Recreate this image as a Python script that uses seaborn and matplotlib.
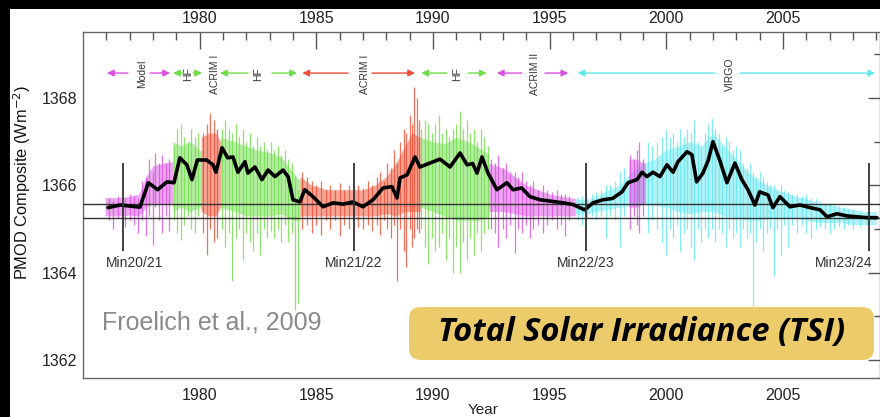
import matplotlib
matplotlib.use("Agg")
import matplotlib.pyplot as plt
from matplotlib.patches import Rectangle, FancyBboxPatch
from matplotlib.transforms import IdentityTransform
import seaborn as sns
import pandas as pd

# ---- data ----
# smoothed composite (black line)
smooth_year = [1976.07, 1976.6, 1977.44, 1977.8, 1978.2, 1978.6, 1978.9, 1979.15, 1979.45, 1979.67,
               1979.9, 1980.3, 1980.57, 1980.7, 1980.96, 1981.2, 1981.43, 1981.64, 1981.94, 1982.07,
               1982.37, 1982.67, 1982.93, 1983.23, 1983.57, 1983.79, 1984.0, 1984.3, 1984.5, 1984.86,
               1985.29, 1985.72, 1986.14, 1986.57, 1987.0, 1987.43, 1987.86, 1988.24, 1988.46, 1988.59,
               1988.89, 1989.23, 1989.44, 1989.87, 1990.3, 1990.73, 1991.16, 1991.46, 1991.7, 1991.89,
               1992.1, 1992.36, 1992.74, 1993.17, 1993.43, 1993.8, 1994.16, 1994.59, 1995.0, 1995.57,
               1996.0, 1996.5, 1996.86, 1997.29, 1997.7, 1998.1, 1998.36, 1998.74, 1998.96, 1999.17,
               1999.43, 1999.73, 2000.03, 2000.29, 2000.5, 2000.89, 2001.1, 2001.3, 2001.57, 2001.79,
               2002.0, 2002.3, 2002.6, 2002.94, 2003.24, 2003.5, 2003.8, 2004.0, 2004.36, 2004.57,
               2004.87, 2005.3, 2005.73, 2006.16, 2006.59, 2006.89, 2007.32, 2007.74, 2008.17, 2008.6,
               2009.03]
smooth_val = [1365.49, 1365.55, 1365.5, 1366.06, 1365.9, 1366.08, 1366.06, 1366.63, 1366.47, 1366.13,
              1366.58, 1366.58, 1366.47, 1366.3, 1366.86, 1366.63, 1366.65, 1366.3, 1366.54, 1366.28,
              1366.42, 1366.13, 1366.35, 1366.2, 1366.35, 1366.2, 1365.67, 1365.62, 1365.9, 1365.74,
              1365.51, 1365.6, 1365.57, 1365.62, 1365.51, 1365.67, 1365.94, 1365.97, 1365.71, 1366.17,
              1366.24, 1366.65, 1366.42, 1366.51, 1366.6, 1366.42, 1366.74, 1366.47, 1366.5, 1366.28,
              1366.65, 1366.28, 1365.9, 1366.06, 1365.9, 1365.94, 1365.74, 1365.67, 1365.64, 1365.6,
              1365.56, 1365.44, 1365.6, 1365.67, 1365.7, 1365.85, 1366.06, 1366.13, 1366.3, 1366.2,
              1366.3, 1366.2, 1366.47, 1366.3, 1366.54, 1366.77, 1366.7, 1366.08, 1366.28, 1366.56,
              1367.0, 1366.56, 1366.06, 1366.51, 1366.13, 1365.9, 1365.55, 1365.85, 1365.78, 1365.49,
              1365.74, 1365.51, 1365.55, 1365.49, 1365.44, 1365.28, 1365.35, 1365.3, 1365.28, 1365.26,
              1365.26]

# daily data envelopes, one block per instrument stretch
model_t = [1975.95, 1976.5, 1977.0, 1977.4, 1977.7, 1978.0, 1978.4, 1978.85]
model_up = [1365.72, 1365.72, 1365.75, 1365.8, 1366.2, 1366.45, 1366.5, 1366.55]
model_lo = [1365.3, 1365.3, 1365.32, 1365.3, 1365.5, 1365.6, 1365.55, 1365.6]

hf1_t = [1978.85, 1979.2, 1979.6, 1980.0, 1980.1]
hf1_up = [1367.0, 1366.9, 1367.0, 1366.8, 1366.8]
hf1_lo = [1365.4, 1365.5, 1365.4, 1365.5, 1365.4]

acrim1a_t = [1980.07, 1980.4, 1980.7, 1980.9]
acrim1a_up = [1367.1, 1367.2, 1367.2, 1367.0]
acrim1a_lo = [1365.4, 1365.3, 1365.3, 1365.5]

hf2_t = [1980.9, 1981.5, 1982.0, 1982.5, 1983.0, 1983.5, 1984.0, 1984.3]
hf2_up = [1367.1, 1367.0, 1366.9, 1366.8, 1366.75, 1366.65, 1366.3, 1366.1]
hf2_lo = [1365.5, 1365.4, 1365.3, 1365.3, 1365.3, 1365.35, 1365.2, 1365.2]

acrim1b_t = [1984.3, 1984.8, 1985.5, 1986.0, 1986.5, 1987.0, 1987.5, 1988.0, 1988.4, 1988.8, 1989.1, 1989.45]
acrim1b_up = [1366.2, 1366.0, 1365.9, 1365.9, 1365.9, 1365.9, 1366.0, 1366.2, 1366.5, 1366.9, 1367.2, 1367.1]
acrim1b_lo = [1365.3, 1365.3, 1365.3, 1365.3, 1365.3, 1365.3, 1365.3, 1365.35, 1365.3, 1365.4, 1365.4, 1365.4]

hf3_t = [1989.45, 1990.0, 1990.5, 1991.0, 1991.5, 1992.0, 1992.4]
hf3_up = [1367.1, 1367.0, 1366.95, 1367.1, 1367.0, 1366.85, 1366.7]
hf3_lo = [1365.5, 1365.4, 1365.3, 1365.2, 1365.2, 1365.2, 1365.3]

acrim2_t = [1992.4, 1993.0, 1993.5, 1994.0, 1994.5, 1995.0, 1995.5, 1996.1]
acrim2_up = [1366.5, 1366.4, 1366.2, 1366.0, 1365.9, 1365.8, 1365.75, 1365.7]
acrim2_lo = [1365.4, 1365.4, 1365.35, 1365.3, 1365.3, 1365.3, 1365.3, 1365.3]

virgo_t = [1996.1, 1996.6, 1997.0, 1997.5, 1998.0, 1998.5, 1999.0, 1999.5, 2000.0, 2000.5, 2001.0,
           2001.5, 2002.0, 2002.5, 2003.0, 2003.5, 2004.0, 2004.5, 2005.0, 2005.5, 2006.0, 2006.5,
           2007.0, 2007.5, 2008.0, 2008.5, 2009.0]
virgo_up = [1365.7, 1365.65, 1365.75, 1365.9, 1366.0, 1366.3, 1366.5, 1366.6, 1366.8, 1366.9, 1367.0,
            1366.9, 1367.2, 1366.9, 1366.6, 1366.3, 1366.1, 1365.95, 1365.85, 1365.75, 1365.7, 1365.6,
            1365.55, 1365.5, 1365.45, 1365.4, 1365.4]
virgo_lo = [1365.35, 1365.35, 1365.4, 1365.45, 1365.5, 1365.55, 1365.55, 1365.55, 1365.5, 1365.4, 1365.35,
            1365.4, 1365.4, 1365.3, 1365.25, 1365.2, 1365.2, 1365.25, 1365.25, 1365.25, 1365.2, 1365.15,
            1365.15, 1365.15, 1365.1, 1365.1, 1365.1]

gap_t = [1998.4, 1998.7, 1999.1]
gap_up = [1366.6, 1366.6, 1366.5]
gap_lo = [1365.5, 1365.5, 1365.6]

# single-day excursions: (year, low, high)
magenta_spikes = [
    (1976.1, 1365.2, 1365.7), (1976.3, 1365.0, 1365.65), (1976.5, 1365.25, 1365.75),
    (1976.8, 1365.05, 1365.7), (1977.0, 1365.2, 1365.8), (1977.2, 1365.1, 1365.75),
    (1977.35, 1364.9, 1365.7), (1977.55, 1365.2, 1366.1), (1977.7, 1364.85, 1366.2),
    (1977.85, 1365.3, 1366.6), (1978.0, 1364.64, 1366.3), (1978.1, 1365.5, 1366.75),
    (1978.25, 1365.2, 1366.5), (1978.4, 1364.9, 1366.7), (1978.55, 1365.3, 1366.5),
    (1978.7, 1364.95, 1366.6),
    (1992.5, 1365.0, 1366.6), (1992.65, 1364.9, 1366.5), (1992.8, 1364.6, 1366.7),
    (1993.0, 1365.0, 1366.4), (1993.15, 1364.8, 1366.5), (1993.3, 1365.1, 1366.3),
    (1993.5, 1364.45, 1366.3), (1993.65, 1365.0, 1366.2), (1993.8, 1364.9, 1366.3),
    (1994.0, 1365.1, 1366.1), (1994.15, 1364.8, 1366.0), (1994.3, 1365.0, 1366.1),
    (1994.5, 1365.1, 1365.9), (1994.7, 1364.9, 1366.0), (1994.9, 1365.1, 1365.9),
    (1995.1, 1365.2, 1365.85), (1995.3, 1365.0, 1365.9), (1995.5, 1365.1, 1365.8),
    (1995.65, 1364.85, 1365.8), (1995.85, 1365.2, 1365.75),
    (1998.45, 1365.0, 1366.7), (1998.6, 1365.3, 1366.6), (1998.75, 1365.1, 1366.8),
    (1998.85, 1364.9, 1367.0), (1999.0, 1365.3, 1366.6)]

green_spikes = [
    (1978.9, 1365.2, 1366.9), (1979.05, 1364.9, 1367.3), (1979.2, 1364.75, 1367.4),
    (1979.35, 1365.1, 1367.1), (1979.5, 1365.3, 1367.0), (1979.65, 1365.0, 1367.3),
    (1979.8, 1364.9, 1367.1), (1979.95, 1365.3, 1367.2),
    (1980.95, 1365.0, 1367.3), (1981.1, 1364.6, 1367.5), (1981.25, 1364.9, 1367.3),
    (1981.4, 1363.8, 1367.2), (1981.55, 1364.8, 1367.4), (1981.7, 1365.0, 1367.1),
    (1981.85, 1364.3, 1367.3), (1982.0, 1364.9, 1367.0), (1982.15, 1364.7, 1367.2),
    (1982.3, 1364.5, 1366.9), (1982.45, 1364.9, 1367.1), (1982.6, 1364.4, 1366.9),
    (1982.75, 1365.0, 1367.0), (1982.9, 1364.8, 1366.8), (1983.05, 1364.95, 1367.0),
    (1983.2, 1364.8, 1366.8), (1983.35, 1365.0, 1366.9), (1983.5, 1364.7, 1366.7),
    (1983.65, 1365.1, 1366.8), (1983.8, 1364.7, 1366.6), (1983.95, 1364.9, 1366.5),
    (1984.1, 1363.15, 1366.2), (1984.2, 1363.3, 1365.9),
    (1989.5, 1365.0, 1367.3), (1989.65, 1364.6, 1367.5), (1989.8, 1364.2, 1367.4),
    (1989.95, 1364.8, 1367.2), (1990.1, 1364.5, 1367.4), (1990.25, 1364.6, 1367.6),
    (1990.4, 1364.9, 1367.2), (1990.55, 1364.3, 1367.3), (1990.7, 1364.8, 1367.1),
    (1990.85, 1364.0, 1367.3), (1991.0, 1364.6, 1367.4), (1991.15, 1363.99, 1367.7),
    (1991.3, 1364.7, 1367.3), (1991.45, 1364.3, 1367.5), (1991.6, 1364.8, 1367.2),
    (1991.75, 1364.4, 1367.3), (1991.9, 1364.9, 1367.0), (1992.05, 1364.5, 1367.3),
    (1992.2, 1364.9, 1367.1), (1992.35, 1365.0, 1366.9)]

red_spikes = [
    (1980.15, 1364.9, 1367.2), (1980.3, 1364.4, 1367.4), (1980.45, 1365.0, 1367.65),
    (1980.6, 1364.7, 1367.5), (1980.75, 1364.8, 1367.3),
    (1984.4, 1365.0, 1366.3), (1984.6, 1365.1, 1366.2), (1984.8, 1364.9, 1366.1),
    (1985.0, 1365.1, 1366.0), (1985.2, 1364.87, 1366.1), (1985.4, 1365.2, 1365.9),
    (1985.6, 1365.0, 1366.0), (1985.8, 1365.2, 1365.9), (1986.0, 1364.85, 1366.05),
    (1986.2, 1365.1, 1365.9), (1986.4, 1365.0, 1366.0), (1986.6, 1365.2, 1365.95),
    (1986.8, 1365.05, 1366.0), (1987.0, 1365.0, 1365.95), (1987.2, 1365.1, 1366.1),
    (1987.4, 1364.95, 1366.0), (1987.6, 1365.1, 1366.2), (1987.75, 1364.87, 1366.3),
    (1987.9, 1365.2, 1366.1), (1988.05, 1365.0, 1366.5), (1988.2, 1364.8, 1366.4),
    (1988.35, 1365.1, 1366.8), (1988.45, 1363.8, 1366.5), (1988.6, 1365.0, 1367.0),
    (1988.75, 1364.5, 1367.3), (1988.85, 1364.14, 1367.2), (1989.0, 1365.0, 1367.6),
    (1989.1, 1364.6, 1367.4), (1989.2, 1364.8, 1368.26), (1989.3, 1365.0, 1368.0),
    (1989.4, 1364.9, 1367.5)]

cyan_spikes = [
    (1996.2, 1365.2, 1365.7), (1996.4, 1365.1, 1365.75), (1996.6, 1365.25, 1365.7),
    (1996.8, 1365.3, 1365.8), (1997.0, 1365.2, 1365.85), (1997.2, 1365.3, 1365.9),
    (1997.4, 1364.8, 1366.0), (1997.6, 1365.3, 1366.0), (1997.8, 1365.2, 1366.1),
    (1998.0, 1364.6, 1366.3), (1998.2, 1365.3, 1366.4), (1999.2, 1364.9, 1367.0),
    (1999.4, 1365.2, 1366.9), (1999.6, 1365.0, 1367.0), (1999.8, 1364.7, 1367.1),
    (2000.0, 1364.4, 1367.3), (2000.15, 1365.0, 1367.1), (2000.3, 1364.8, 1367.2),
    (2000.45, 1365.1, 1367.0), (2000.6, 1364.5, 1367.3), (2000.75, 1364.9, 1367.1),
    (2000.9, 1365.0, 1367.3), (2001.05, 1364.6, 1367.2), (2001.2, 1364.3, 1367.5),
    (2001.35, 1365.0, 1367.0), (2001.5, 1364.7, 1366.9), (2001.65, 1365.0, 1367.2),
    (2001.8, 1364.8, 1367.4), (2001.95, 1365.0, 1367.55), (2002.1, 1364.7, 1367.3),
    (2002.25, 1365.0, 1367.2), (2002.4, 1364.9, 1366.9), (2002.55, 1364.6, 1367.1),
    (2002.7, 1365.0, 1367.0), (2002.85, 1364.8, 1366.8), (2003.0, 1364.9, 1366.9),
    (2003.15, 1364.6, 1366.8), (2003.3, 1365.0, 1366.5), (2003.45, 1364.8, 1366.4),
    (2003.6, 1364.9, 1366.5), (2003.73, 1363.23, 1366.3), (2003.85, 1364.7, 1366.2),
    (2004.0, 1365.0, 1366.3), (2004.15, 1364.5, 1366.2), (2004.3, 1364.9, 1366.1),
    (2004.45, 1365.0, 1366.0), (2004.6, 1363.92, 1366.0), (2004.75, 1365.0, 1365.9),
    (2004.9, 1364.4, 1366.0), (2005.05, 1365.1, 1365.9), (2005.2, 1364.6, 1365.85),
    (2005.4, 1365.1, 1365.8), (2005.6, 1364.9, 1365.8), (2005.8, 1365.1, 1365.75),
    (2006.0, 1364.9, 1365.8), (2006.2, 1364.8, 1365.7), (2006.4, 1365.0, 1365.7),
    (2006.6, 1365.05, 1365.65), (2006.8, 1365.0, 1365.6), (2007.0, 1364.9, 1365.6),
    (2007.2, 1365.0, 1365.55), (2007.4, 1365.05, 1365.5), (2007.6, 1365.0, 1365.5),
    (2007.8, 1365.1, 1365.45), (2008.0, 1365.0, 1365.45), (2008.3, 1365.05, 1365.4),
    (2008.6, 1365.1, 1365.4)]

# instrument arrows along the top
inst_names = ["Model", "HF", "ACRIM I", "HF", "ACRIM I", "HF", "ACRIM II", "VIRGO"]
inst_start = [1976.03, 1978.86, None, 1980.87, 1984.4, 1989.5, 1992.74, 1996.2]
inst_end = [1978.73, 1980.1, None, 1984.17, 1989.23, 1992.3, 1995.8, 2008.95]
inst_text = [1977.52, 1979.5, 1980.66, 1982.5, 1987.09, 1991.03, 1994.37, 2002.73]
inst_gap_lo = [1976.93, 1979.3, None, 1982.07, 1986.36, 1990.6, 1993.8, 2002.09]
inst_gap_hi = [1977.87, 1979.72, None, 1983.1, 1987.39, 1991.5, 1994.8, 2003.16]

# solar minima
min_names = ["Min20/21", "Min21/22", "Min22/23", "Min23/24"]
min_years = [1976.7, 1986.62, 1996.56, 2008.7]
min_label_x = [1977.19, 1986.62, 1996.56, 2007.62]
ref_levels = [1365.58, 1365.26]

MAG, GRN, RED, CYN = "#d94fe0", "#6fdc4a", "#ec4f33", "#64e6ef"
inst_colors = [MAG, GRN, GRN, GRN, RED, GRN, MAG, CYN]

# ---- figure ----
sns.set_style("white")
plt.rcParams['font.family'] = ['Liberation Sans', 'DejaVu Sans']

fig = plt.figure(figsize=(8.8, 4.17), dpi=100, facecolor="black")
fig.add_artist(Rectangle((10, 0), 870, 408, transform=IdentityTransform(),
                         facecolor="white", edgecolor="none", zorder=-5))
ax = fig.add_axes([83 / 880, 1 - 378 / 417, 797 / 880, 346 / 417])

bands = [(model_t, model_up, model_lo, MAG), (hf1_t, hf1_up, hf1_lo, GRN),
         (acrim1a_t, acrim1a_up, acrim1a_lo, RED), (hf2_t, hf2_up, hf2_lo, GRN),
         (acrim1b_t, acrim1b_up, acrim1b_lo, RED), (hf3_t, hf3_up, hf3_lo, GRN),
         (acrim2_t, acrim2_up, acrim2_lo, MAG), (virgo_t, virgo_up, virgo_lo, CYN),
         (gap_t, gap_up, gap_lo, MAG)]
for t, up, lo, c in bands:
    ax.fill_between(t, lo, up, color=c, alpha=0.5, lw=0, zorder=2)

for spikes, c in [(magenta_spikes, MAG), (green_spikes, GRN), (red_spikes, RED), (cyan_spikes, CYN)]:
    yr, lo, hi = zip(*spikes)
    ax.vlines(yr, lo, hi, color=c, lw=0.9, alpha=0.8, zorder=3)

for lev in ref_levels:
    ax.axhline(lev, color="#333333", lw=1.0, zorder=4)

smooth = pd.DataFrame({"Year": smooth_year, "TSI": smooth_val})
sns.lineplot(data=smooth, x="Year", y="TSI", color="black", lw=2.6, ax=ax, zorder=6)

for name, yr, lx in zip(min_names, min_years, min_label_x):
    ax.vlines(yr, 1364.5, 1366.5, color="#333333", lw=1.3, zorder=7)
    ax.text(lx, 1364.23, name, ha="center", va="center", fontsize=10, color="#333333")

row = 1368.57
for i, name in enumerate(inst_names):
    c = inst_colors[i]
    ax.text(inst_text[i], row - 0.02, name, rotation=90, ha="center", va="center",
            fontsize=7.5, color="#333333")
    if inst_start[i] is None:
        continue
    ax.annotate("", xy=(inst_start[i], row), xytext=(inst_gap_lo[i], row),
                arrowprops=dict(arrowstyle="-|>", color=c, lw=1.0, mutation_scale=10,
                                shrinkA=0, shrinkB=0))
    ax.annotate("", xy=(inst_end[i], row), xytext=(inst_gap_hi[i], row),
                arrowprops=dict(arrowstyle="-|>", color=c, lw=1.0, mutation_scale=10,
                                shrinkA=0, shrinkB=0))

ax.text(1975.81, 1362.86, "Froelich et al., 2009", fontsize=18, color="#8a8a8a",
        ha="left", va="center")

year_ticks = [1980, 1985, 1990, 1995, 2000, 2005]
ax.set_xlim(1975, 2009.16)
ax.set_ylim(1361.59, 1369.51)
ax.set_xticks(year_ticks)
ax.set_xticks(range(1976, 2010), minor=True)
ax.set_yticks([1362, 1364, 1366, 1368])
ax.set_yticks([1363, 1365, 1367, 1369], minor=True)
ax.tick_params(which="both", direction="in", top=True, right=True, labeltop=False,
               colors="#555555", labelcolor="#222222", labelsize=11.5, width=1)
ax.tick_params(axis="x", which="major", length=12, pad=7)
ax.tick_params(axis="x", which="minor", length=6)
ax.tick_params(axis="y", which="major", length=9, pad=4)
ax.tick_params(axis="y", which="minor", length=4)
for s in ax.spines.values():
    s.set_color("#666666")
    s.set_linewidth(1.0)

top = ax.secondary_xaxis("top")
top.set_xticks(year_ticks)
top.tick_params(length=0, pad=4, labelsize=11.5, labelcolor="#222222")
top.spines["top"].set_visible(False)

ax.set_xlabel("Year", fontsize=11, color="#222222")
ax.xaxis.set_label_coords(0.502, -0.072)
ax.set_ylabel("PMOD Composite (Wm$^{-2}$)", fontsize=11.8, color="#111111")
ax.yaxis.set_label_coords(-0.063, 0.566)

fig.add_artist(FancyBboxPatch((409, 57), 465, 53, boxstyle="round,pad=0,rounding_size=12",
                              transform=IdentityTransform(), facecolor="#eccb6a",
                              edgecolor="none", zorder=10))
fig.text(642 / 880, 1 - 333 / 417, "Total Solar Irradiance (TSI)", ha="center", va="center",
         fontsize=23.5, fontweight="bold", fontstyle="italic", family=["Open Sans", "DejaVu Sans"],
         color="black", zorder=11)

fig.savefig("out.png", dpi=100, facecolor="black")
